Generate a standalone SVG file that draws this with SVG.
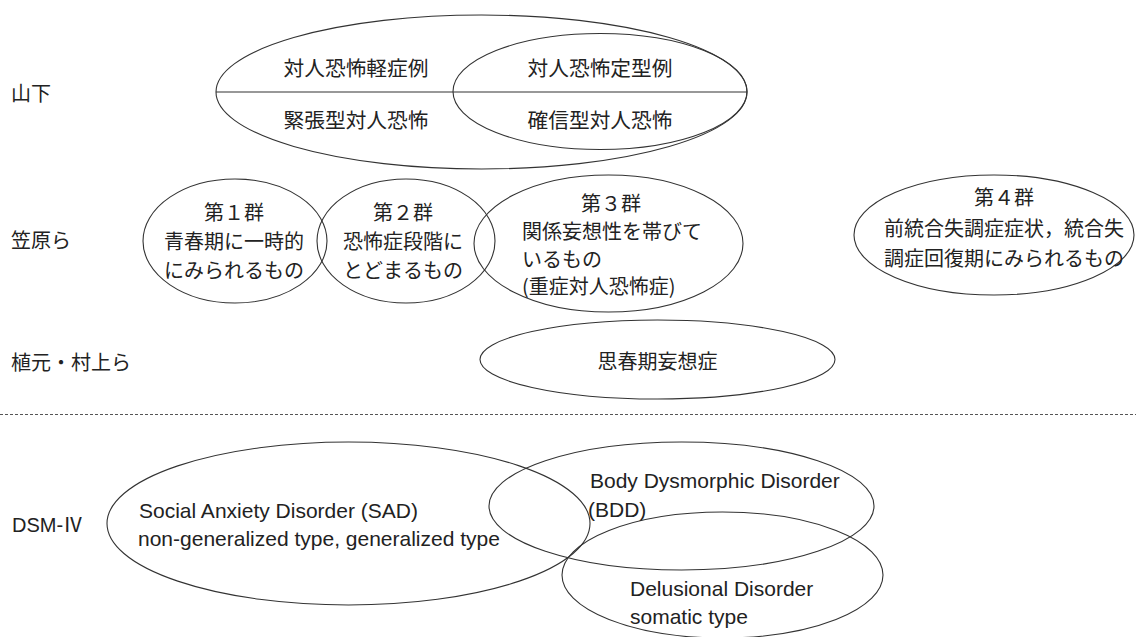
<svg xmlns="http://www.w3.org/2000/svg" width="1136" height="637" viewBox="0 0 1136 637">
<style>
.sh{fill:none;stroke:#333;stroke-width:1.1}
.jp{font-family:"Noto Sans CJK JP","Liberation Sans",sans-serif;fill:#222;font-size:20px}
.en{font-family:"Liberation Sans","Noto Sans CJK JP",sans-serif;fill:#222;font-size:21px}
.m{text-anchor:middle}
</style>
<rect width="1136" height="637" fill="#fff"/>
<g id="labels">
<text class="jp" x="11" y="101">山下</text>
<text class="jp" x="11" y="248">笠原ら</text>
<text class="jp" x="11" y="370">植元・村上ら</text>
<text class="en" x="12" y="532" style="font-size:20px">DSM-Ⅳ</text>
</g>
<g id="yamashita">
<ellipse class="sh" cx="481.5" cy="92" rx="265.5" ry="77"/>
<ellipse class="sh" cx="600" cy="91.5" rx="147" ry="58"/>
<line class="sh" x1="216" y1="92" x2="747" y2="92"/>
<text class="jp m" x="356" y="76" style="font-size:20.7px">対人恐怖軽症例</text>
<text class="jp m" x="600" y="76" style="font-size:20.7px">対人恐怖定型例</text>
<text class="jp m" x="356" y="128" style="font-size:20.7px">緊張型対人恐怖</text>
<text class="jp m" x="600" y="128" style="font-size:20.7px">確信型対人恐怖</text>
</g>
<g id="group1">
<ellipse class="sh" cx="235" cy="241" rx="92" ry="62"/>
<text class="jp m" x="234" y="220">第１群</text>
<text class="jp m" x="234" y="249">青春期に一時的</text>
<text class="jp m" x="234" y="278">にみられるもの</text>
</g>
<g id="group2">
<ellipse class="sh" cx="406" cy="241" rx="89" ry="62"/>
<text class="jp m" x="403" y="220">第２群</text>
<text class="jp m" x="403" y="249">恐怖症段階に</text>
<text class="jp m" x="403" y="278">とどまるもの</text>
</g>
<g id="group3">
<ellipse class="sh" cx="608.5" cy="243.5" rx="134.5" ry="68.5"/>
<text class="jp m" x="611" y="211">第３群</text>
<text class="jp" x="522" y="239">関係妄想性を帯びて</text>
<text class="jp" x="522" y="267">いるもの</text>
<text class="jp" x="522" y="294">(重症対人恐怖症)</text>
</g>
<g id="group4">
<ellipse class="sh" cx="994" cy="235" rx="140" ry="60"/>
<text class="jp m" x="1004" y="205">第４群</text>
<text class="jp m" x="1004" y="236">前統合失調症症状，統合失</text>
<text class="jp m" x="1004" y="266">調症回復期にみられるもの</text>
</g>
<g id="shishunki">
<ellipse class="sh" cx="657.5" cy="359.5" rx="177.5" ry="39.5"/>
<text class="jp m" x="657.5" y="369">思春期妄想症</text>
</g>
<g id="connectors">
<line x1="0" y1="414.5" x2="1136" y2="414.5" stroke="#555" stroke-width="1" stroke-dasharray="3 2"/>
</g>
<g id="sad">
<ellipse class="sh" cx="348.5" cy="523.5" rx="241.5" ry="81.5"/>
<text class="en" x="139" y="518">Social Anxiety Disorder (SAD)</text>
<text class="en" x="138" y="546">non-generalized type, generalized type</text>
</g>
<g id="bdd">
<ellipse class="sh" cx="681.5" cy="506" rx="192.5" ry="64"/>
<text class="en" x="590" y="488">Body Dysmorphic Disorder</text>
<text class="en" x="588" y="517">(BDD)</text>
</g>
<g id="delusional">
<ellipse class="sh" cx="722.5" cy="575" rx="160.5" ry="63"/>
<text class="en" x="630" y="596">Delusional Disorder</text>
<text class="en" x="630" y="624">somatic type</text>
</g>
</svg>
